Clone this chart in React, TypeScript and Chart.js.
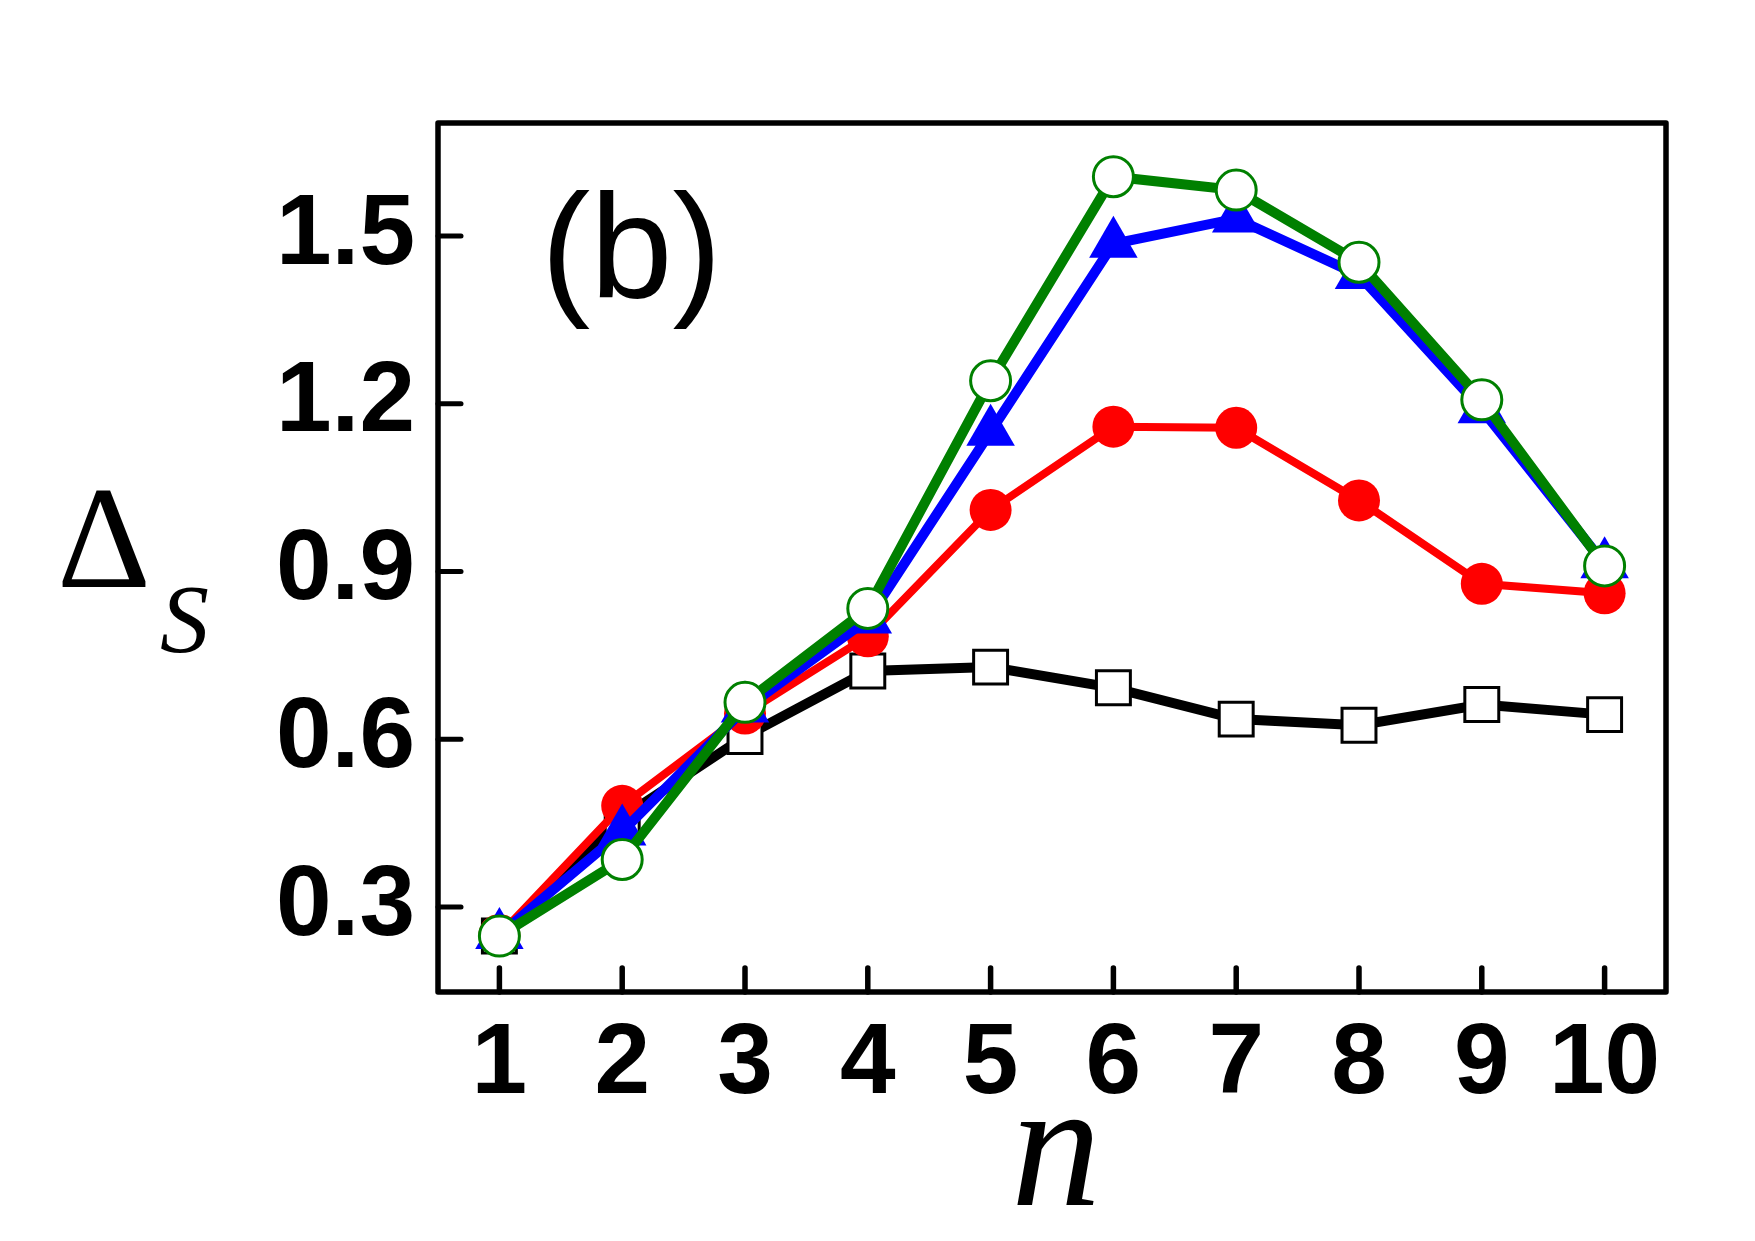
import React, { useEffect, useRef } from 'react';
import { Chart, registerables } from 'chart.js';

Chart.register(...registerables);

// ---- data ----
const nValues = [1, 2, 3, 4, 5, 6, 7, 8, 9, 10];
const blackSquares = [0.248, 0.46, 0.605, 0.722, 0.729, 0.692, 0.636, 0.625, 0.662, 0.644];
const redCircles = [0.25, 0.481, 0.646, 0.784, 1.01, 1.159, 1.157, 1.027, 0.878, 0.861];
const blueTriangles = [0.25, 0.435, 0.655, 0.814, 1.15, 1.486, 1.531, 1.43, 1.19, 0.913];
const greenCircles = [0.248, 0.385, 0.666, 0.834, 1.241, 1.606, 1.582, 1.453, 1.207, 0.91];
const yTickValues = [0.3, 0.6, 0.9, 1.2, 1.5];
const xTickValues = nValues;
const panelLabel = '(b)';
const xTitle = 'n';
const yTitleMain = 'Δ';
const yTitleSub = 'S';

const W = 1755;
const H = 1241;
const AREA = { left: 438, top: 123, right: 1666, bottom: 992 };

const framePlugin = {
  id: 'framePlugin',
  afterDraw(chart: any) {
    const ctx = chart.ctx;
    const xs = chart.scales.x;
    const ys = chart.scales.y;
    const a = chart.chartArea;
    ctx.save();
    ctx.strokeStyle = '#000';
    ctx.lineWidth = 5.5;
    ctx.lineCap = 'round';
    // inward ticks
    xTickValues.forEach((v) => {
      const px = xs.getPixelForValue(v);
      ctx.beginPath();
      ctx.moveTo(px, a.bottom);
      ctx.lineTo(px, a.bottom - 24);
      ctx.stroke();
    });
    ctx.lineWidth = 5;
    yTickValues.forEach((v) => {
      const py = ys.getPixelForValue(v);
      ctx.beginPath();
      ctx.moveTo(a.left, py);
      ctx.lineTo(a.left + 23, py);
      ctx.stroke();
    });
    // frame
    ctx.lineCap = 'butt';
    ctx.lineJoin = 'round';
    ctx.lineWidth = 5.5;
    ctx.strokeRect(a.left, a.top, a.right - a.left, a.bottom - a.top);

    // panel label
    ctx.fillStyle = '#000';
    ctx.textAlign = 'left';
    ctx.textBaseline = 'alphabetic';
    ctx.font = 'normal 148px "Liberation Sans", Arial, sans-serif';
    ctx.fillText(panelLabel, 541, 298);

    // x title
    ctx.font = 'italic 180px "Liberation Serif", "Times New Roman", serif';
    ctx.textAlign = 'center';
    ctx.fillText(xTitle, 1056, 1205);

    // y title
    ctx.textAlign = 'left';
    ctx.font = 'normal 146px "Liberation Serif", "Times New Roman", serif';
    ctx.fillText(yTitleMain, 57, 587);
    ctx.font = 'italic 98px "Liberation Serif", "Times New Roman", serif';
    ctx.fillText(yTitleSub, 160, 652);
    ctx.restore();
  },
};

export default function App() {
  const ref = useRef<HTMLCanvasElement | null>(null);

  useEffect(() => {
    if (!ref.current) return;
    const toPts = (arr: number[]) => arr.map((y, i) => ({ x: nValues[i], y }));
    const chart = new Chart(ref.current, {
      type: 'line',
      data: {
        datasets: [
          {
            label: 'black',
            data: toPts(blackSquares),
            borderColor: '#000000',
            borderWidth: 10,
            pointStyle: 'rect',
            pointRadius: 24,
            pointBackgroundColor: '#ffffff',
            pointBorderColor: '#000000',
            pointBorderWidth: 3,
            order: 4,
          },
          {
            label: 'red',
            data: toPts(redCircles),
            borderColor: '#ff0000',
            borderWidth: 8,
            pointStyle: 'circle',
            pointRadius: 21,
            pointBackgroundColor: '#ff0000',
            pointBorderColor: '#ff0000',
            pointBorderWidth: 0,
            order: 3,
          },
          {
            label: 'blue',
            data: toPts(blueTriangles),
            borderColor: '#0000ff',
            borderWidth: 10,
            pointStyle: 'triangle',
            pointRadius: 28,
            pointBackgroundColor: '#0000ff',
            pointBorderColor: '#0000ff',
            pointBorderWidth: 0,
            order: 2,
          },
          {
            label: 'green',
            data: toPts(greenCircles),
            borderColor: '#008000',
            borderWidth: 10,
            pointStyle: 'circle',
            pointRadius: 20,
            pointBackgroundColor: '#ffffff',
            pointBorderColor: '#008000',
            pointBorderWidth: 3,
            order: 1,
          },
        ],
      },
      options: {
        responsive: false,
        animation: false,
        devicePixelRatio: 1,
        layout: {
          padding: { left: 0, top: AREA.top, right: W - AREA.right, bottom: 0 },
        },
        plugins: {
          legend: { display: false },
          tooltip: { enabled: false },
        },
        elements: { line: { tension: 0 } },
        scales: {
          x: {
            type: 'linear',
            min: 0.5,
            max: 10.5,
            grid: { display: false, drawTicks: false },
            border: { display: false },
            afterBuildTicks: (s: any) => {
              s.ticks = xTickValues.map((v) => ({ value: v }));
            },
            afterFit: (s: any) => {
              s.height = H - AREA.bottom;
            },
            ticks: {
              autoSkip: false,
              maxRotation: 0,
              padding: 13,
              color: '#000',
              font: { family: '"Liberation Sans", Arial, sans-serif', size: 100, weight: 'bold' },
              callback: (v: any) => String(v),
            },
          },
          y: {
            type: 'linear',
            min: 0.148,
            max: 1.702,
            grid: { display: false, drawTicks: false },
            border: { display: false },
            afterBuildTicks: (s: any) => {
              s.ticks = yTickValues.map((v) => ({ value: v }));
            },
            afterFit: (s: any) => {
              s.width = AREA.left;
            },
            ticks: {
              autoSkip: false,
              padding: 23,
              color: '#000',
              font: { family: '"Liberation Sans", Arial, sans-serif', size: 100, weight: 'bold' },
              callback: (v: any) => Number(v).toFixed(1),
            },
          },
        },
      },
      plugins: [framePlugin],
    } as any);
    return () => chart.destroy();
  }, []);

  return (
    <div style={{ position: 'absolute', left: 0, top: 0, width: W, height: H, background: '#fff' }}>
      <canvas ref={ref} width={W} height={H} style={{ display: 'block', width: W, height: H }} />
    </div>
  );
}
